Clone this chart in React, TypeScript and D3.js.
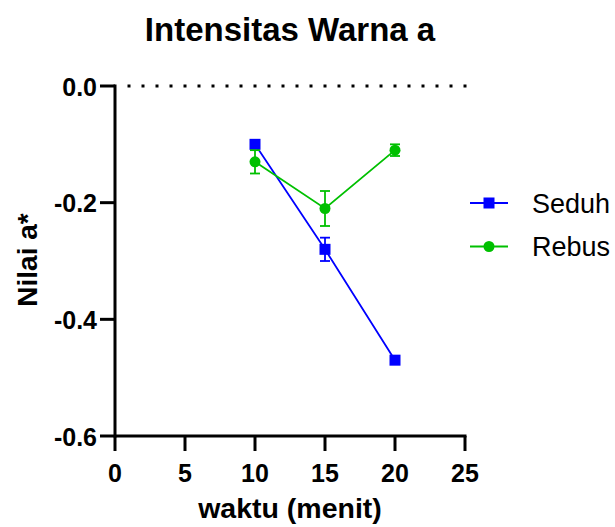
import React from "react";
import * as d3 from "d3";

const times = [10, 15, 20];
const seduh = [-0.1, -0.28, -0.47];
const seduhErr = [0.005, 0.02, 0.0];
const rebus = [-0.13, -0.21, -0.11];
const rebusErr = [0.02, 0.03, 0.01];
const xTicks = [0, 5, 10, 15, 20, 25];
const yTicks = [0, -0.2, -0.4, -0.6];
const seriesNames = ["Seduh", "Rebus"];

const W = 615, H = 527;
const FONT = "Arial, 'Liberation Sans', sans-serif";

export default function App() {
  const x = d3.scaleLinear().domain([0, 25]).range([115, 465]);
  const y = d3.scaleLinear().domain([0, -0.6]).range([86, 436]);
  const line = d3.line<[number, number]>().x(d => x(d[0])).y(d => y(d[1]));
  const blue = "#0000FF";
  const green = "#00C000";
  const series = [
    { name: seriesNames[0], vals: seduh, err: seduhErr, color: blue, shape: "square" },
    { name: seriesNames[1], vals: rebus, err: rebusErr, color: green, shape: "circle" },
  ];
  const dots = d3.range(x(1), x(25) + 1, 14);
  const fmt = (v: number) => d3.format(".1f")(v).replace("\u2212", "-");
  return (
    <svg width={W} height={H} style={{ position: "absolute", left: 0, top: 0, background: "#fff" }}>
      <text x={290} y={41} textAnchor="middle" fontFamily={FONT} fontWeight="bold" fontSize={33}>Intensitas Warna a</text>
      {dots.map((d, i) => (
        <rect key={i} x={d - 1.5} y={y(0) - 1.5} width={3} height={3} fill="#000" />
      ))}
      <line x1={x(0)} x2={x(0)} y1={y(0) - 1.5} y2={y(-0.6) + 1.5} stroke="#000" strokeWidth={3} />
      <line x1={x(0)} x2={x(25) + 1.5} y1={y(-0.6)} y2={y(-0.6)} stroke="#000" strokeWidth={3} />
      {yTicks.map(t => (
        <g key={t}>
          <line x1={x(0) - 15} x2={x(0)} y1={y(t)} y2={y(t)} stroke="#000" strokeWidth={3} />
          <text x={x(0) - 18} y={y(t) + 9.5} textAnchor="end" fontFamily={FONT} fontWeight="bold" fontSize={25}>{fmt(t)}</text>
        </g>
      ))}
      {xTicks.map(t => (
        <g key={t}>
          <line x1={x(t)} x2={x(t)} y1={y(-0.6)} y2={y(-0.6) + 15} stroke="#000" strokeWidth={3} />
          <text x={x(t)} y={482} textAnchor="middle" fontFamily={FONT} fontWeight="bold" fontSize={25}>{t}</text>
        </g>
      ))}
      <text x={290} y={518} textAnchor="middle" fontFamily={FONT} fontWeight="bold" fontSize={28.5}>waktu (menit)</text>
      <text transform={`translate(37,260) rotate(-90)`} textAnchor="middle" fontFamily={FONT} fontWeight="bold" fontSize={28}>Nilai a*</text>
      {series.map(s => {
        const pts = times.map((t, i) => [t, s.vals[i]] as [number, number]);
        return (
          <g key={s.name}>
            <path d={line(pts) || ""} fill="none" stroke={s.color} strokeWidth={1.8} />
            {pts.map((p, i) => {
              const e = s.err[i];
              const cx = x(p[0]);
              return (
                <g key={i}>
                  {e > 0 && (
                    <g stroke={s.color} strokeWidth={1.8}>
                      <line x1={cx} x2={cx} y1={y(p[1] + e)} y2={y(p[1] - e)} />
                      <line x1={cx - 5} x2={cx + 5} y1={y(p[1] + e)} y2={y(p[1] + e)} />
                      <line x1={cx - 5} x2={cx + 5} y1={y(p[1] - e)} y2={y(p[1] - e)} />
                    </g>
                  )}
                  {s.shape === "square" ? (
                    <rect x={cx - 5.5} y={y(p[1]) - 5.5} width={11} height={11} fill={s.color} />
                  ) : (
                    <circle cx={cx} cy={y(p[1])} r={5.5} fill={s.color} />
                  )}
                </g>
              );
            })}
          </g>
        );
      })}
      {series.map((s, i) => {
        const ly = 203 + i * 43.5;
        return (
          <g key={s.name}>
            <line x1={470} x2={508} y1={ly} y2={ly} stroke={s.color} strokeWidth={1.8} />
            {s.shape === "square" ? (
              <rect x={483.5} y={ly - 5.5} width={11} height={11} fill={s.color} />
            ) : (
              <circle cx={489} cy={ly} r={5.5} fill={s.color} />
            )}
            <text x={532} y={ly + 9.5} fontFamily={FONT} fontSize={27}>{s.name}</text>
          </g>
        );
      })}
    </svg>
  );
}
